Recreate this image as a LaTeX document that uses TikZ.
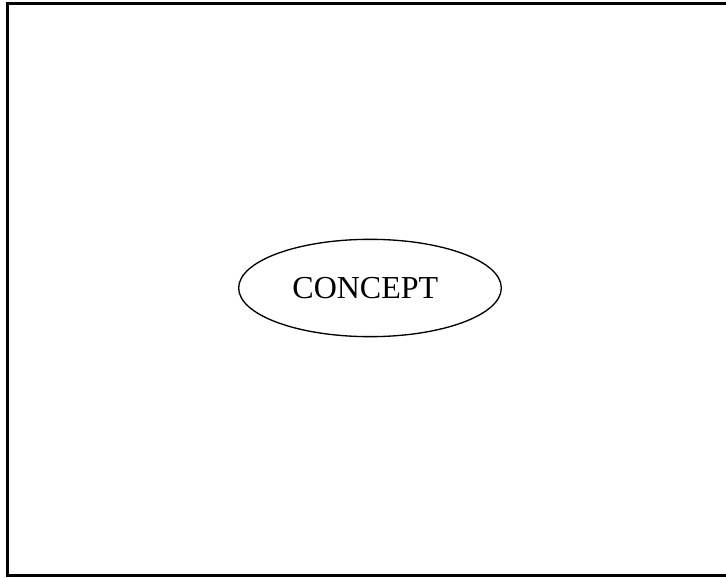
\documentclass[tikz,border=0pt]{standalone}
\usepackage{fontspec}
\setmainfont{Liberation Serif}
\usetikzlibrary{shapes.geometric}
\begin{document}
\begin{tikzpicture}[x=0.75pt,y=-0.75pt,
  frame/.style={draw=black,line width=1.6pt},
  concept/.style={ellipse,draw=black,line width=1pt,minimum width=197pt,minimum height=73pt,inner sep=0pt,font=\fontsize{24}{28}\selectfont}]
\useasboundingbox (0,0) rectangle (726,578);
\begin{scope}
\clip (0,0) rectangle (726,578);
\draw[frame] (7.5,3.5) rectangle (740,575.5);
\end{scope}
\node[concept] (c) at (370,288) {\hspace*{-7pt}CONCEPT};
\end{tikzpicture}
\end{document}
